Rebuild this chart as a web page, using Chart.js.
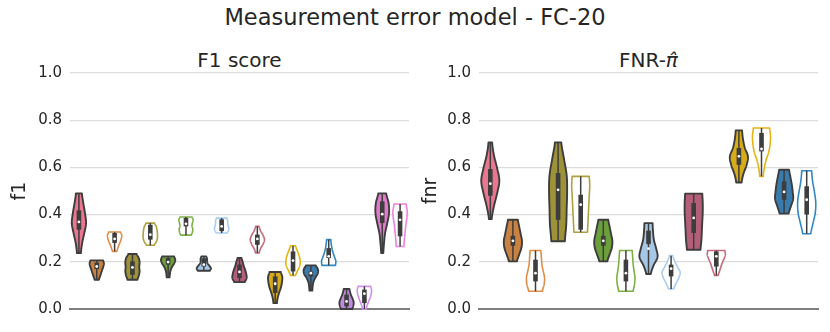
<!DOCTYPE html>
<html>
<head>
<meta charset="utf-8">
<script src="https://cdn.jsdelivr.net/npm/chart.js@4.4.0/dist/chart.umd.min.js"></script>
<style>
  html, body { margin:0; padding:0; background:#fff; }
  #wrap { position:relative; width:830px; height:332px; overflow:hidden; font-family:'DejaVu Sans', sans-serif; color:#262626; }
  .sup { position:absolute; left:0; width:830px; top:4px; text-align:center; font-size:22.5px; line-height:normal; white-space:nowrap; }
  .sub { position:absolute; top:48px; text-align:center; font-size:20px; line-height:normal; white-space:nowrap; }
  canvas { position:absolute; top:0; }
</style>
</head>
<body>
<div id="wrap">
  <div class="sup">Measurement error model - FC-20</div>
  <div class="sub" style="left:70px;width:339px;">F1 score</div>
  <div class="sub" style="left:479px;width:339px;">FNR-<i>π̂</i></div>
  <canvas id="c1" width="415" height="332" style="left:0px"></canvas>
  <canvas id="c2" width="415" height="332" style="left:415px"></canvas>
</div>
<script>
// ---------- data ----------
const yTicks = [0.0, 0.2, 0.4, 0.6, 0.8, 1.0];

// F1 score panel (19 violins)
const f1Categories = ['pink','orange','orange-b','olive','olive-b','green','green-b','lightblue','lightblue-b','crimson','crimson-b','gold','gold-b','blue','blue-b','purple','purple-b','magenta','magenta-b'];
const f1Min = [0.237,0.124,0.244,0.124,0.270,0.134,0.313,0.162,0.322,0.114,0.237,0.025,0.142,0.078,0.185,0.000,0.000,0.237,0.265];
const f1Q1  = [0.336,0.169,0.280,0.145,0.294,0.188,0.350,0.180,0.330,0.131,0.272,0.068,0.159,0.138,0.216,0.011,0.025,0.364,0.308];
const f1Med = [0.369,0.180,0.297,0.176,0.315,0.199,0.361,0.188,0.350,0.157,0.297,0.107,0.205,0.152,0.223,0.032,0.065,0.402,0.378];
const f1Q3  = [0.418,0.197,0.322,0.202,0.357,0.216,0.386,0.215,0.380,0.188,0.315,0.138,0.244,0.159,0.258,0.061,0.082,0.456,0.414];
const f1Max = [0.490,0.206,0.326,0.233,0.364,0.223,0.390,0.223,0.385,0.216,0.350,0.157,0.268,0.185,0.294,0.085,0.096,0.490,0.445];
// relative density width, bottom (min) -> top (max)
const f1Density = [
  [0.28,0.45,0.75,1.00,0.85,0.62,0.42],
  [0.30,0.45,0.60,0.75,0.90,1.00,0.90],
  [0.30,0.45,0.60,0.80,0.95,1.00,0.85],
  [0.70,0.90,1.00,0.95,1.00,0.90,0.60],
  [0.55,0.85,1.00,1.00,0.95,0.85,0.60],
  [0.20,0.25,0.35,0.55,0.85,1.00,0.85],
  [0.75,0.90,0.95,0.85,0.90,1.00,0.85],
  [0.85,1.00,0.80,0.55,0.45,0.45,0.35],
  [0.75,0.95,1.00,0.90,0.85,0.85,0.75],
  [0.75,1.00,0.95,0.80,0.60,0.45,0.30],
  [0.25,0.45,0.80,1.00,0.80,0.45,0.25],
  [0.25,0.35,0.55,0.80,0.95,1.00,0.80],
  [0.35,0.65,0.95,1.00,0.85,0.60,0.35],
  [0.20,0.25,0.35,0.60,0.95,1.00,0.70],
  [0.95,1.00,0.80,0.60,0.45,0.35,0.30],
  [0.80,0.95,1.00,0.85,0.65,0.50,0.40],
  [0.25,0.40,0.60,0.80,0.95,1.00,0.90],
  [0.15,0.25,0.40,0.70,0.95,0.90,0.55],
  [0.55,0.60,0.70,0.80,0.95,1.00,0.85]
];

// FNR panel (15 violins)
const fnrCategories = ['pink','orange','orange-b','olive','olive-b','green','green-b','lightblue','lightblue-b','crimson','crimson-b','gold','gold-b','blue','blue-b'];
const fnrMin = [0.381,0.202,0.075,0.287,0.325,0.202,0.075,0.148,0.085,0.251,0.142,0.536,0.562,0.404,0.319];
const fnrQ1  = [0.480,0.268,0.117,0.378,0.336,0.268,0.117,0.275,0.138,0.322,0.180,0.611,0.668,0.463,0.400];
const fnrMed = [0.531,0.289,0.152,0.505,0.442,0.289,0.152,0.256,0.171,0.386,0.223,0.647,0.678,0.496,0.463];
const fnrQ3  = [0.593,0.310,0.209,0.576,0.484,0.310,0.209,0.332,0.188,0.449,0.244,0.682,0.746,0.541,0.520];
const fnrMax = [0.706,0.378,0.248,0.706,0.562,0.378,0.248,0.364,0.226,0.489,0.248,0.757,0.767,0.590,0.586];
const fnrDensity = [
  [0.15,0.40,0.75,1.00,0.75,0.40,0.20],
  [0.45,0.70,0.95,1.00,0.85,0.70,0.55],
  [0.75,0.95,1.00,0.85,0.70,0.65,0.60],
  [0.75,0.90,0.95,1.00,0.95,0.65,0.35],
  [0.75,0.80,0.85,0.90,0.95,1.00,0.95],
  [0.45,0.70,0.95,1.00,0.85,0.70,0.55],
  [0.80,0.95,1.00,0.90,0.80,0.75,0.70],
  [0.25,0.55,1.00,0.85,0.60,0.50,0.45],
  [0.30,0.55,0.85,1.00,0.70,0.40,0.20],
  [0.75,0.85,0.90,0.95,1.00,1.00,0.95],
  [0.20,0.35,0.50,0.65,0.85,1.00,0.95],
  [0.30,0.50,0.85,1.00,0.65,0.45,0.35],
  [0.20,0.30,0.50,0.80,0.95,1.00,0.90],
  [0.50,0.75,1.00,0.95,0.85,0.70,0.55],
  [0.45,0.70,0.95,1.00,0.85,0.65,0.55]
];

// ---------- styles ----------
const f1Colors  = ['#e8778f','#c98241','#df8d47','#9d9237','#ada13f','#6c9f3b','#7cb043','#a7c7e7','#a9cdf0','#b45f79','#c8687f','#d7ac19','#e3b512','#3a7bad','#3288c2','#c08ae0','#d18ff0','#e07bcc','#ee82de'];
const f1Filled  = [true,true,false,true,false,true,false,true,false,true,false,true,false,true,false,true,false,true,false];
const fnrColors = f1Colors.slice(0,15);
const fnrFilled = f1Filled.slice(0,15);

const FONT = 'DejaVu Sans';
const TEXT = '#262626';

function interp(p, t) {
  const n = p.length - 1;
  const f = t * n;
  let i = Math.floor(f); if (i >= n) i = n - 1;
  const u = f - i;
  const p0 = p[Math.max(i-1,0)], p1 = p[i], p2 = p[i+1], p3 = p[Math.min(i+2,n)];
  const v = 0.5*((2*p1) + (-p0+p2)*u + (2*p0-5*p1+4*p2-p3)*u*u + (-p0+3*p1-3*p2+p3)*u*u*u);
  return Math.max(0.03, v);
}

const violinPlugin = {
  id: 'violin',
  afterDatasetsDraw(chart, args, opts) {
    const ctx = chart.ctx, x = chart.scales.x, y = chart.scales.y;
    const s = opts.stats;
    const n = s.min.length;
    const slot = Math.abs(x.getPixelForValue(1) - x.getPixelForValue(0));
    const hw = slot * 0.4;
    ctx.save();
    for (let i = 0; i < n; i++) {
      const cx = x.getPixelForValue(i);
      const lo = s.min[i], hi = s.max[i], prof = s.density[i];
      const M = 80, pts = [];
      for (let k = 0; k <= M; k++) {
        const t = k / M;
        pts.push([y.getPixelForValue(lo + (hi - lo) * t), interp(prof, t) * hw]);
      }
      ctx.beginPath();
      pts.forEach((p, k) => k ? ctx.lineTo(cx + p[1], p[0]) : ctx.moveTo(cx + p[1], p[0]));
      for (let k = M; k >= 0; k--) ctx.lineTo(cx - pts[k][1], pts[k][0]);
      ctx.closePath();
      ctx.lineJoin = 'round';
      if (s.filled[i]) {
        ctx.fillStyle = s.colors[i]; ctx.fill();
        ctx.strokeStyle = '#3d3d3d'; ctx.lineWidth = 1.9; ctx.stroke();
      } else {
        ctx.fillStyle = '#ffffff'; ctx.fill();
        ctx.strokeStyle = s.colors[i]; ctx.lineWidth = 1.6; ctx.stroke();
      }
      // whisker
      ctx.beginPath();
      ctx.moveTo(cx, y.getPixelForValue(lo));
      ctx.lineTo(cx, y.getPixelForValue(hi));
      ctx.strokeStyle = '#3d3d3d'; ctx.lineWidth = 1.5; ctx.stroke();
      // box
      const yq3 = y.getPixelForValue(s.q3[i]), yq1 = y.getPixelForValue(s.q1[i]);
      ctx.fillStyle = '#3d3d3d';
      ctx.fillRect(cx - 2.3, yq3, 4.6, yq1 - yq3);
      // median
      ctx.beginPath();
      ctx.arc(cx, y.getPixelForValue(s.med[i]), 1.4, 0, Math.PI*2);
      ctx.fillStyle = '#ffffff'; ctx.fill();
    }
    ctx.restore();
  }
};

function makeChart(id, cats, mins, maxs, q1, med, q3, dens, colors, filled, label, axisW, padRight, titlePad) {
  return new Chart(document.getElementById(id), {
    type: 'bar',
    data: {
      labels: cats,
      datasets: [{
        data: cats.map((c, i) => [mins[i], maxs[i]]),
        backgroundColor: 'rgba(0,0,0,0)',
        borderWidth: 0
      }]
    },
    options: {
      responsive: false,
      animation: false,
      devicePixelRatio: 1,
      layout: { padding: { top: 73, bottom: 23, left: 0, right: padRight } },
      plugins: {
        legend: { display: false },
        tooltip: { enabled: false },
        title: { display: false },
        violin: { stats: { min: mins, max: maxs, q1: q1, med: med, q3: q3, density: dens, colors: colors, filled: filled } }
      },
      scales: {
        x: {
          type: 'category',
          offset: true,
          grid: { display: false, drawTicks: false },
          ticks: { display: false },
          border: { display: true, color: '#7f7f7f', width: 2 },
          afterFit: (sc) => { sc.height = 0; }
        },
        y: {
          min: 0, max: 1,
          afterBuildTicks: (sc) => { sc.ticks = yTicks.map(v => ({ value: v })); },
          ticks: {
            padding: 8,
            color: TEXT,
            font: { family: FONT, size: 15 },
            callback: (v) => Number(v).toFixed(1)
          },
          grid: { color: '#dcdcdc', lineWidth: 1.3, drawTicks: false },
          border: { display: false },
          title: { display: true, text: label, color: TEXT, font: { family: FONT, size: 19 }, padding: { top: titlePad, bottom: 0 } },
          afterFit: (sc) => { sc.width = axisW; }
        }
      }
    },
    plugins: [violinPlugin]
  });
}

makeChart('c1', f1Categories, f1Min, f1Max, f1Q1, f1Med, f1Q3, f1Density, f1Colors, f1Filled, 'f1', 70, 6, 9);
makeChart('c2', fnrCategories, fnrMin, fnrMax, fnrQ1, fnrMed, fnrQ3, fnrDensity, fnrColors, fnrFilled, 'fnr', 64, 12, 5);
</script>
</body>
</html>
